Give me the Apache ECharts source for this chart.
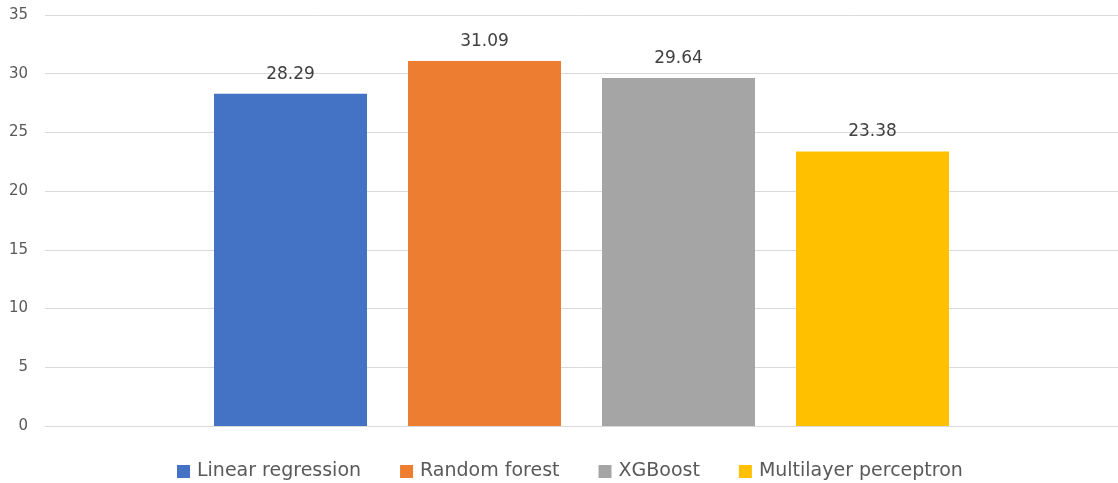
<!DOCTYPE html>
<html>
<head>
<meta charset="utf-8">
<script src="https://cdn.jsdelivr.net/npm/echarts@6/dist/echarts.min.js"></script>
<style>
  html, body { margin: 0; padding: 0; background: #fff; }
  #chart { width: 1118px; height: 483px; }
</style>
</head>
<body>
<div id="chart"></div>
<script>
// Model scores
const modelNames = ['Linear regression', 'Random forest', 'XGBoost', 'Multilayer perceptron'];
const modelScores = [28.29, 31.09, 29.64, 23.38];
const modelColors = ['#4472C4', '#ED7D31', '#A5A5A5', '#FFC000'];
const yTicks = { min: 0, max: 35, interval: 5 };

const FONT = '"DejaVu Sans", "Noto Sans", sans-serif';

const series = modelNames.map((name, i) => ({
  name: name,
  type: 'bar',
  data: [modelScores[i]],
  barWidth: 153,
  barGap: '26.8%',
  itemStyle: { color: modelColors[i] },
  label: {
    show: true,
    position: 'top',
    distance: 11,
    color: '#404040',
    fontSize: 17,
    fontFamily: FONT,
    formatter: p => p.value.toFixed(2)
  }
}));

const chart = echarts.init(document.getElementById('chart'), null, { renderer: 'canvas' });
chart.setOption({
  animation: false,
  backgroundColor: '#ffffff',
  grid: { left: 45, right: -1, top: 15, bottom: 57, containLabel: false },
  xAxis: {
    type: 'category',
    data: [''],
    axisLine: { show: true, lineStyle: { color: '#D9D9D9', width: 1 } },
    axisTick: { show: false },
    axisLabel: { show: false }
  },
  yAxis: {
    type: 'value',
    min: yTicks.min,
    max: yTicks.max,
    interval: yTicks.interval,
    axisLine: { show: false },
    axisTick: { show: false },
    axisLabel: { color: '#595959', fontSize: 15, fontFamily: FONT, margin: 17 },
    splitLine: { lineStyle: { color: '#D9D9D9', width: 1 } }
  },
  legend: {
    bottom: 0,
    left: 172,
    padding: [5, 5, 2, 5],
    icon: 'rect',
    itemWidth: 13,
    itemHeight: 13,
    itemGap: 39,
    textStyle: { color: '#595959', fontSize: 19, fontFamily: FONT, padding: [0, 0, 0, 2] },
  },
  series: series
});
</script>
</body>
</html>
